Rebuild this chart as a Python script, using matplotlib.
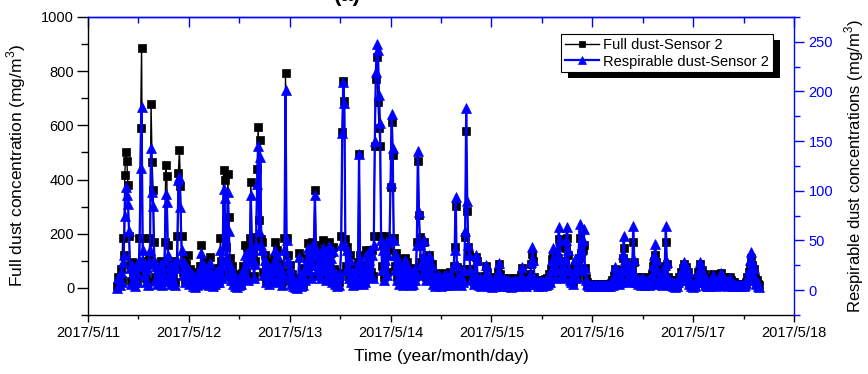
import matplotlib
matplotlib.use('Agg')
from datetime import datetime
from matplotlib import pyplot as plt
import matplotlib.dates as mdates
from matplotlib.patches import Rectangle
from matplotlib.ticker import MultipleLocator, FuncFormatter
from matplotlib.transforms import IdentityTransform
import pandas as pd

# sampling of the two sensors (one reading every 15 minutes)
start_time = "2017-05-11 07:00"
sample_step = "15min"

# full dust concentration, mg/m3 (left axis), one row = 6 hours
full_dust = [
    8, 40, 20, 70, 30, 184, 120, 415, 500, 470, 380, 190, 85, 25, 95, 40, 75, 18, 70, 30, 90, 184, 590, 885,
    184, 60, 100, 35, 85, 20, 110, 184, 678, 465, 360, 170, 40, 90, 25, 80, 45, 100, 22, 70, 35, 170, 452, 412,
    160, 45, 90, 25, 75, 40, 100, 22, 85, 190, 425, 510, 376, 190, 60, 105, 30, 90, 45, 121, 25, 70, 40, 60,
    15, 40, 12, 35, 18, 50, 30, 80, 158, 60, 95, 25, 70, 35, 75, 20, 113, 45, 60, 15, 50, 22, 70, 30,
    75, 30, 184, 100, 45, 435, 398, 150, 60, 420, 260, 110, 40, 80, 25, 50, 15, 40, 12, 30, 18, 45, 22, 55,
    80, 157, 60, 150, 40, 110, 184, 392, 170, 130, 45, 100, 188, 438, 595, 250, 546, 180, 170, 60, 120, 30, 95, 40,
    25, 70, 30, 85, 45, 110, 170, 80, 140, 40, 90, 30, 70, 20, 55, 184, 792, 184, 120, 45, 85, 25, 50, 15,
    30, 12, 25, 10, 22, 130, 35, 15, 45, 18, 75, 40, 110, 165, 80, 150, 45, 170, 95, 160, 361, 160, 80, 140,
    55, 140, 45, 110, 176, 80, 150, 40, 120, 170, 60, 130, 30, 150, 70, 25, 60, 15, 45, 20, 55, 190, 575, 765,
    690, 180, 80, 150, 45, 120, 30, 70, 20, 50, 22, 80, 40, 95, 493, 120, 45, 85, 25, 60, 30, 139, 50, 120,
    139, 60, 140, 45, 190, 523, 770, 853, 687, 589, 525, 190, 80, 160, 40, 120, 190, 60, 140, 184, 373, 613, 490, 185,
    80, 130, 40, 105, 25, 70, 30, 85, 20, 55, 110, 45, 95, 30, 70, 20, 50, 25, 75, 40, 60, 170, 468, 268,
    188, 95, 55, 110, 170, 75, 40, 100, 45, 120, 55, 90, 25, 50, 18, 45, 20, 55, 22, 45, 15, 38, 20, 50,
    22, 55, 20, 45, 25, 60, 20, 38, 80, 150, 302, 77, 45, 22, 50, 20, 45, 30, 70, 188, 579, 283, 150, 120,
    70, 38, 55, 22, 45, 114, 100, 38, 18, 40, 15, 35, 18, 45, 22, 80, 60, 30, 42, 15, 32, 12, 28, 15,
    22, 40, 60, 90, 50, 22, 35, 15, 38, 18, 30, 14, 35, 18, 28, 12, 30, 15, 35, 18, 28, 15, 35, 22,
    48, 75, 35, 18, 30, 15, 35, 20, 32, 50, 90, 124, 100, 40, 22, 30, 15, 28, 18, 30, 14, 28, 18, 32,
    18, 35, 22, 50, 28, 70, 105, 121, 85, 40, 70, 110, 180, 150, 100, 50, 85, 40, 100, 148, 183, 120, 70, 35,
    28, 45, 22, 60, 80, 40, 65, 110, 185, 130, 70, 139, 160, 75, 35, 20, 16, 15, 16, 15, 16, 15, 16, 15,
    16, 15, 16, 15, 16, 14, 15, 14, 16, 15, 16, 15, 16, 15, 18, 30, 18, 45, 70, 35, 55, 22, 50, 28,
    65, 110, 146, 95, 65, 35, 80, 28, 60, 40, 70, 170, 95, 40, 28, 40, 22, 35, 18, 40, 22, 35, 18, 30,
    22, 35, 18, 40, 22, 50, 80, 100, 121, 95, 65, 35, 22, 40, 18, 35, 60, 80, 168, 90, 40, 22, 30, 18,
    28, 15, 24, 12, 22, 15, 28, 40, 60, 35, 72, 90, 50, 78, 35, 60, 22, 30, 15, 24, 12, 22, 15, 28,
    35, 60, 40, 90, 65, 28, 50, 18, 30, 14, 24, 14, 28, 18, 35, 50, 22, 30, 15, 24, 18, 35, 22, 55,
    28, 40, 18, 30, 15, 24, 18, 40, 28, 22, 15, 20, 14, 16, 14, 15, 14, 16, 14, 16, 14, 16, 22, 40,
    35, 60, 78, 110, 85, 50, 70, 35, 22, 30, 14, 10,
]

# respirable dust concentration, mg/m3 (right axis)
resp_dust = [
    2, 12, 5, 18, 8, 28, 35, 75, 104, 96, 87, 60, 22, 6, 25, 10, 20, 4, 18, 8, 24, 30, 123, 184,
    40, 15, 26, 8, 22, 5, 28, 40, 143, 99, 85, 30, 10, 24, 6, 20, 12, 26, 5, 18, 9, 30, 97, 89,
    35, 12, 24, 6, 20, 10, 26, 5, 22, 30, 111, 114, 84, 40, 15, 28, 8, 24, 12, 20, 6, 18, 10, 16,
    4, 12, 3, 10, 5, 14, 8, 22, 37, 15, 25, 6, 18, 9, 20, 5, 27, 12, 16, 4, 14, 6, 18, 8,
    20, 8, 40, 25, 12, 102, 93, 30, 15, 99, 60, 25, 10, 20, 6, 14, 4, 10, 3, 8, 5, 12, 6, 15,
    20, 35, 15, 37, 10, 28, 40, 96, 40, 30, 12, 26, 45, 107, 145, 60, 134, 45, 40, 15, 30, 8, 25, 10,
    6, 18, 8, 22, 12, 28, 40, 20, 35, 10, 24, 8, 18, 5, 15, 40, 201, 50, 30, 12, 22, 6, 14, 4,
    8, 3, 7, 2, 6, 33, 10, 4, 12, 5, 20, 10, 30, 42, 20, 38, 12, 44, 25, 45, 96, 40, 20, 35,
    15, 35, 12, 28, 42, 20, 38, 10, 30, 44, 15, 32, 8, 39, 18, 6, 16, 4, 12, 5, 15, 45, 158, 210,
    188, 45, 20, 40, 12, 30, 8, 18, 5, 14, 6, 20, 10, 25, 137, 30, 12, 22, 6, 16, 8, 35, 14, 30,
    40, 15, 35, 12, 45, 150, 220, 248, 242, 196, 168, 50, 20, 40, 10, 30, 48, 15, 35, 50, 108, 177, 143, 50,
    20, 35, 10, 28, 6, 18, 8, 22, 5, 15, 30, 12, 25, 8, 18, 5, 14, 6, 20, 10, 16, 45, 140, 79,
    45, 25, 15, 30, 50, 20, 10, 28, 12, 35, 15, 25, 6, 14, 4, 12, 5, 15, 6, 13, 4, 10, 5, 14,
    6, 15, 5, 12, 7, 16, 5, 10, 25, 40, 94, 25, 12, 6, 14, 5, 12, 8, 20, 60, 183, 90, 45, 35,
    20, 10, 15, 6, 12, 35, 30, 10, 5, 12, 4, 10, 5, 13, 6, 25, 18, 8, 12, 4, 9, 3, 8, 4,
    6, 12, 18, 27, 15, 6, 10, 4, 11, 5, 9, 4, 10, 5, 8, 3, 9, 4, 10, 5, 8, 4, 10, 6,
    14, 23, 10, 5, 9, 4, 10, 6, 9, 15, 28, 43, 30, 12, 6, 9, 4, 8, 5, 9, 4, 8, 5, 9,
    5, 10, 6, 14, 8, 20, 30, 42, 25, 12, 20, 35, 64, 50, 30, 15, 25, 12, 30, 50, 64, 40, 20, 10,
    8, 14, 6, 18, 31, 12, 20, 35, 67, 40, 20, 50, 62, 22, 10, 6, 5, 4, 5, 4, 5, 4, 5, 4,
    5, 4, 5, 4, 5, 4, 5, 4, 5, 4, 5, 4, 5, 4, 6, 9, 5, 14, 23, 10, 18, 6, 15, 8,
    20, 36, 55, 30, 20, 10, 25, 8, 18, 12, 21, 65, 30, 12, 8, 12, 6, 10, 5, 12, 6, 10, 5, 9,
    6, 10, 5, 12, 6, 15, 25, 35, 46, 30, 20, 10, 6, 12, 5, 10, 18, 25, 65, 28, 12, 6, 9, 5,
    8, 4, 7, 3, 6, 4, 8, 12, 18, 10, 22, 28, 15, 24, 10, 18, 6, 9, 4, 7, 3, 6, 4, 8,
    10, 18, 12, 28, 20, 8, 15, 5, 9, 4, 7, 4, 8, 5, 10, 15, 6, 9, 4, 7, 5, 10, 6, 17,
    8, 12, 5, 9, 4, 7, 5, 12, 8, 6, 4, 6, 4, 5, 4, 5, 4, 5, 4, 5, 4, 5, 7, 12,
    10, 20, 30, 38, 29, 15, 22, 10, 6, 9, 4, 3,
]

full_label = "Full dust-Sensor 2"
resp_label = "Respirable dust-Sensor 2"

plt.rcParams['font.family'] = ['Liberation Sans', 'DejaVu Sans']
plt.rcParams['mathtext.fontset'] = 'custom'
plt.rcParams['mathtext.rm'] = 'Liberation Sans'

times = pd.date_range(start_time, periods=len(full_dust), freq=sample_step).to_pydatetime()

fig = plt.figure(figsize=(8.68, 3.74), dpi=100)
ax = fig.add_axes([0.1014, 0.1578, 0.8133, 0.7968])
ax.patch.set_visible(False)
ax2 = ax.twinx()

l1, = ax.plot(times, full_dust, color='k', lw=1.0, marker='s', ms=5.6,
              mec='k', mew=0.5, label=full_label)
l2, = ax2.plot(times, resp_dust, color='blue', lw=1.6, marker='^', ms=6.8,
               mec='blue', mew=0.5, label=resp_label)

ax.set_ylim(-100, 1000)
ax.yaxis.set_major_locator(MultipleLocator(200))
ax.yaxis.set_minor_locator(MultipleLocator(100))
ax2.set_ylim(-25, 275)
ax2.yaxis.set_major_locator(MultipleLocator(50))
ax2.yaxis.set_minor_locator(MultipleLocator(25))

ax.set_xlim(datetime(2017, 5, 11), datetime(2017, 5, 18))
ax.xaxis.set_major_locator(mdates.DayLocator())
ax.xaxis.set_minor_locator(mdates.HourLocator(byhour=[12]))


def day_fmt(v, pos):
    d = mdates.num2date(v)
    return "{y}/{m}/{d}".format(y=d.year, m=d.month, d=d.day)


ax.xaxis.set_major_formatter(FuncFormatter(day_fmt))

ax.tick_params(axis='y', which='major', direction='out', length=8, width=1, labelsize=10.5, pad=2)
ax.tick_params(axis='y', which='minor', direction='out', length=5, width=1)
ax.tick_params(axis='x', which='major', direction='out', length=5, width=1, labelsize=10.5, pad=3)
ax.tick_params(axis='x', which='minor', direction='out', length=3, width=1)
ax2.tick_params(axis='y', which='major', direction='out', length=7, width=1, labelsize=10.5,
                colors='blue', pad=3.4)
ax2.tick_params(axis='y', which='minor', direction='out', length=4, width=1, colors='blue')

for side in ['top', 'right']:
    ax.spines[side].set_visible(False)
for side in ['left', 'bottom']:
    ax2.spines[side].set_visible(False)
ax.spines['left'].set_linewidth(1)
ax.spines['bottom'].set_linewidth(1)
ax2.spines['right'].set_color('blue')
ax2.spines['right'].set_linewidth(1)
ax2.spines['top'].set_color('blue')
ax2.spines['top'].set_linewidth(1)

top = ax.secondary_xaxis('top')
top.xaxis.set_major_locator(mdates.DayLocator())
top.xaxis.set_minor_locator(mdates.HourLocator(byhour=[12]))
top.tick_params(axis='x', which='major', direction='in', length=7, width=1, colors='blue', labeltop=False)
top.tick_params(axis='x', which='minor', direction='in', length=4, width=1, colors='blue')
top.spines['top'].set_color('blue')
top.spines['top'].set_linewidth(1)

ax.set_xlabel("Time (year/month/day)", fontsize=12.5, labelpad=6.5)
ax.set_ylabel("Full dust concentration (mg/m$^3$)", fontsize=12.5, labelpad=9.5)
ax2.set_ylabel("Respirable dust concentrations (mg/m$^3$)", fontsize=12, labelpad=7, color='k')

fig.text(0.4, 0.985, "(a)", ha='center', va='bottom', fontsize=16, fontweight='bold')

leg = ax2.legend([l1, l2], [full_label, resp_label], loc='upper right',
                 bbox_to_anchor=(0.970, 0.943), fancybox=False, edgecolor='k',
                 framealpha=1, fontsize=10.5, handlelength=2.33, handletextpad=0.3,
                 borderpad=0.25, labelspacing=0.2, borderaxespad=0, markerscale=0.8)
leg.get_frame().set_linewidth(0.8)

# Origin style hard shadow under the legend box
fig.canvas.draw()
bb = leg.get_window_extent()
fig.add_artist(Rectangle((bb.x0 + 7, bb.y0 - 6), bb.width, bb.height, transform=IdentityTransform(),
                         facecolor='k', edgecolor='none', zorder=-1))

fig.savefig("out.png", dpi=100)
plt.close(fig)
